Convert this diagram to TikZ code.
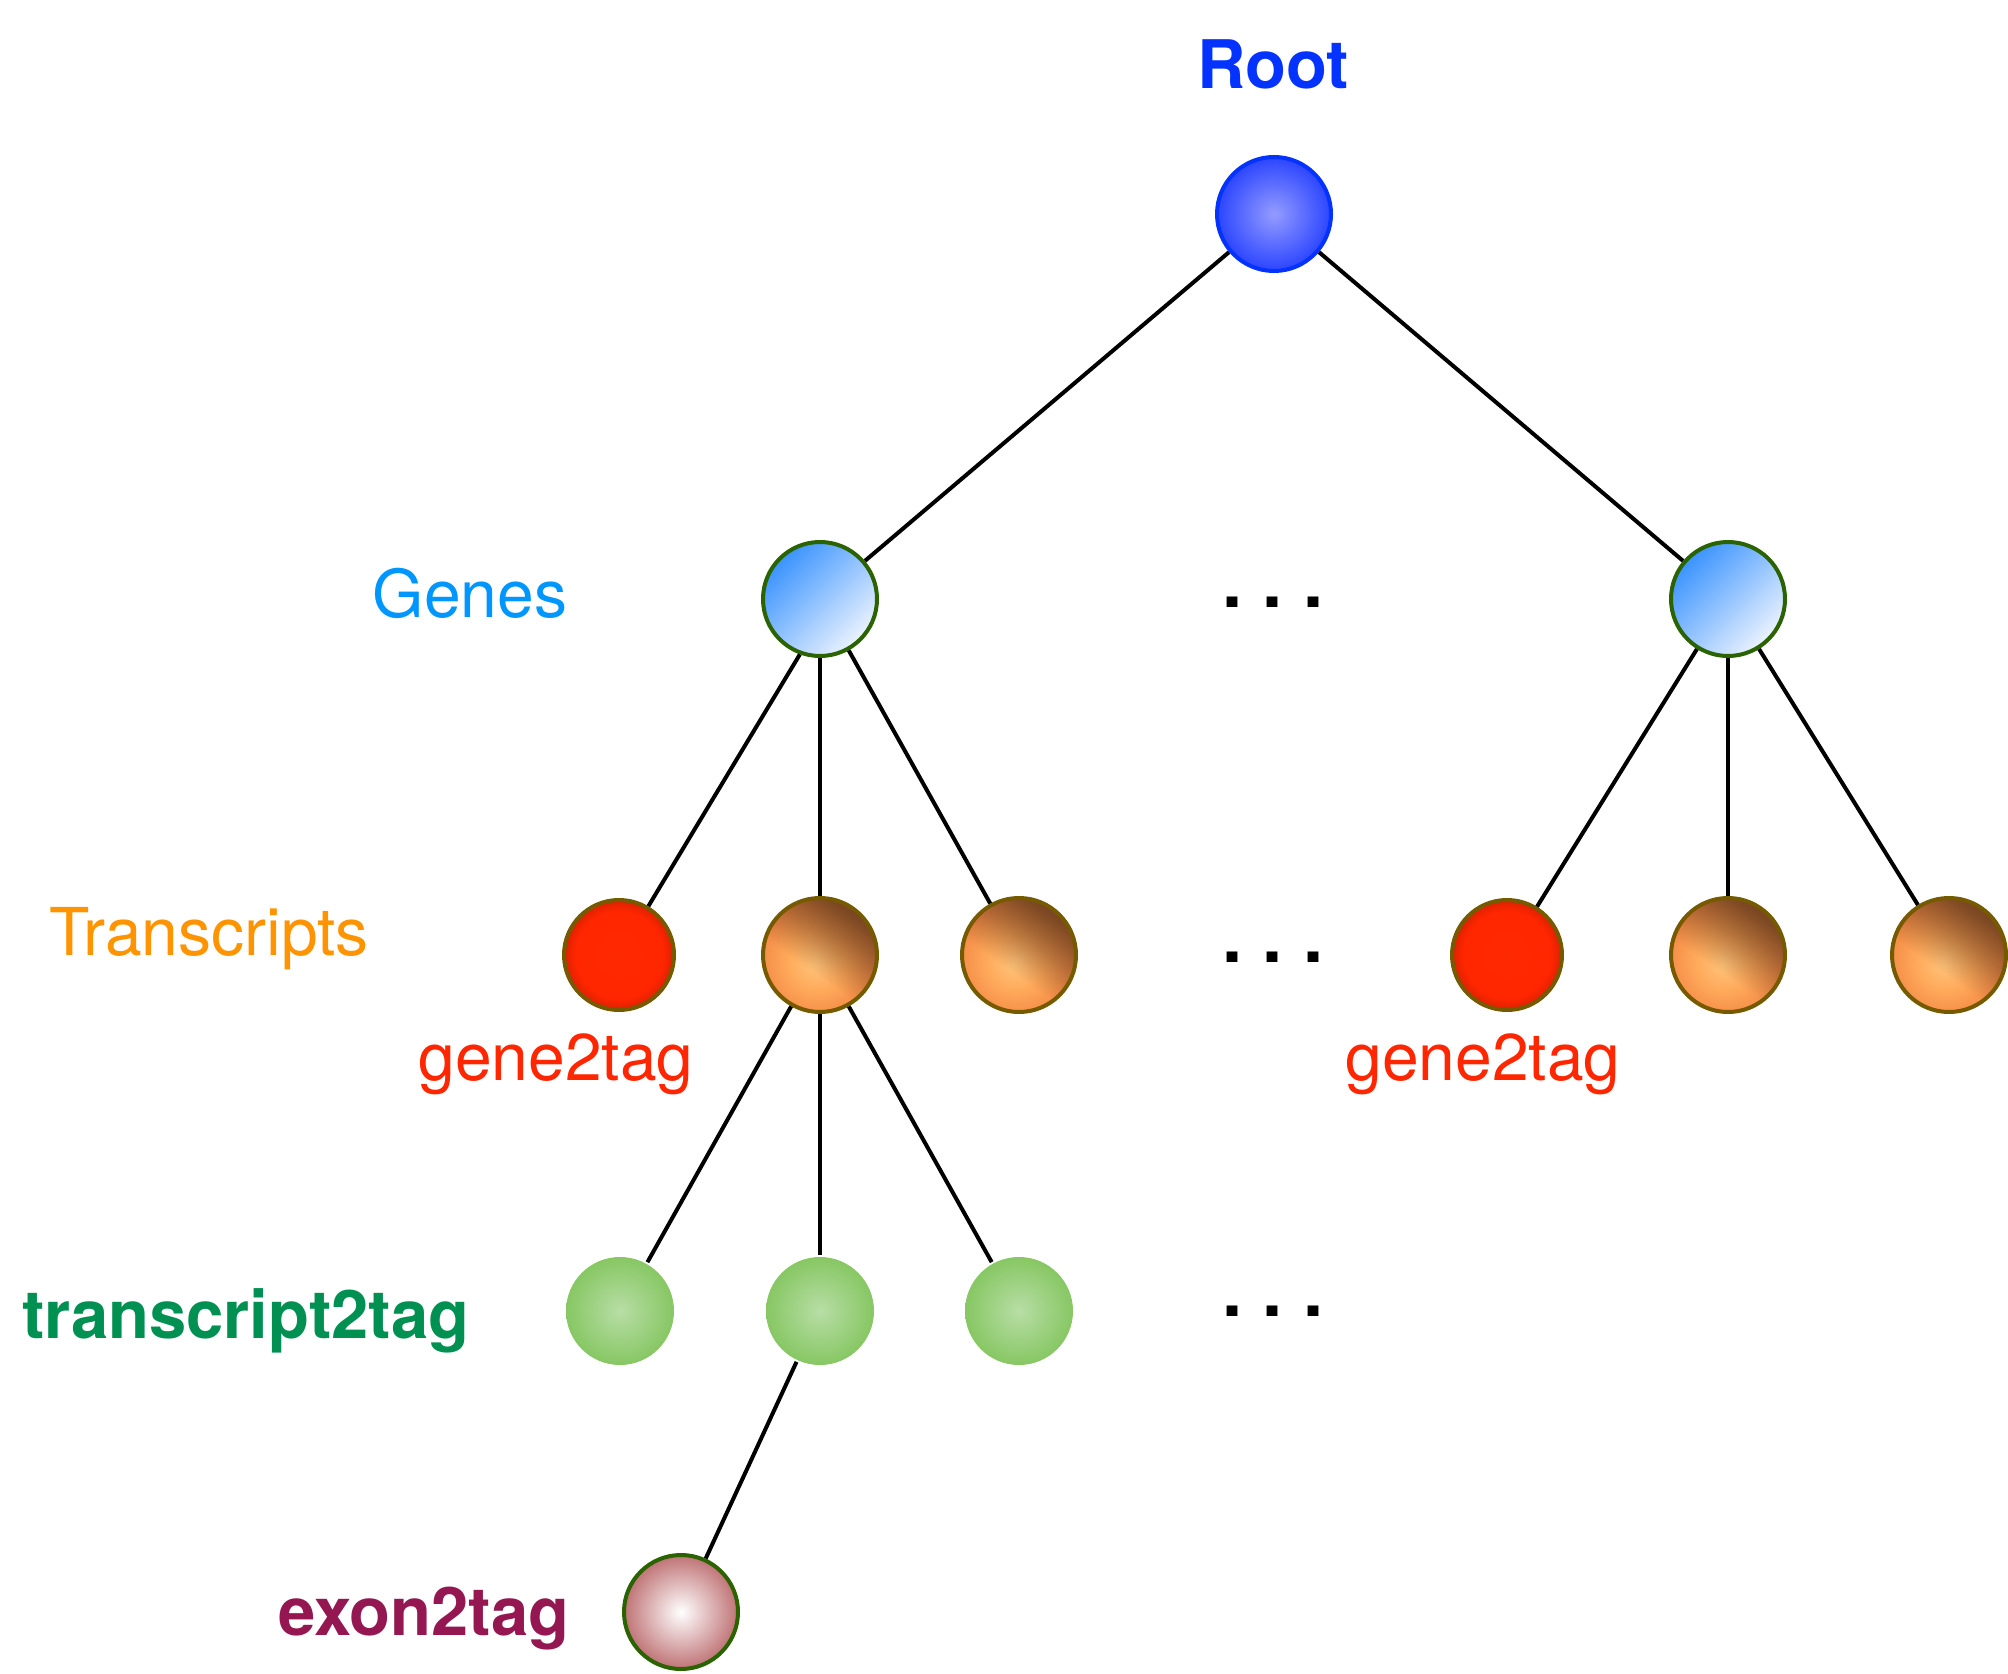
\documentclass[tikz,border=0pt]{standalone}
\usepackage{fontspec}
\setmainfont{TeX Gyre Heros}
\usetikzlibrary{fadings}
\definecolor{blueberry}{HTML}{0433FF}
\definecolor{aqua}{HTML}{0096FF}
\definecolor{tangerine}{HTML}{FF9300}
\definecolor{marasch}{HTML}{FF2600}
\definecolor{moss}{HTML}{009051}
\definecolor{maroonc}{HTML}{941751}
\definecolor{genebd}{HTML}{2A6300}
\definecolor{trbd}{HTML}{765A00}
\definecolor{geneA}{HTML}{3A93FF}
\definecolor{geneB}{HTML}{ECF3FF}
\definecolor{brownD}{HTML}{70411F}
\pgfdeclareradialshading{rootball}{\pgfpoint{0bp}{0bp}}{rgb(0bp)=(0.58,0.61,1); rgb(25bp)=(0.17,0.27,1); rgb(50bp)=(0.17,0.27,1)}
\pgfdeclareradialshading{orangeball}{\pgfpoint{-2bp}{-4bp}}{rgb(0bp)=(1,0.77,0.48); rgb(12bp)=(1,0.67,0.36); rgb(25bp)=(0.96,0.55,0.28); rgb(50bp)=(0.96,0.55,0.28)}
\pgfdeclareradialshading{redball}{\pgfpoint{0bp}{0bp}}{rgb(0bp)=(1,0.16,0); rgb(20bp)=(1,0.15,0); rgb(25bp)=(0.86,0.13,0); rgb(50bp)=(0.86,0.13,0)}
\pgfdeclareradialshading{greenball}{\pgfpoint{0bp}{0bp}}{rgb(0bp)=(0.72,0.87,0.65); rgb(25bp)=(0.53,0.78,0.39); rgb(50bp)=(0.53,0.78,0.39)}
\pgfdeclareradialshading{exonball}{\pgfpoint{0bp}{0bp}}{rgb(0bp)=(1,1,1); rgb(25bp)=(0.75,0.45,0.46); rgb(50bp)=(0.75,0.45,0.46)}
\pgfdeclareverticalshading{bfshade}{100bp}{color(0bp)=(pgftransparent!100); color(42bp)=(pgftransparent!100); color(58bp)=(pgftransparent!50); color(72bp)=(pgftransparent!10); color(84bp)=(pgftransparent!0); color(100bp)=(pgftransparent!0)}
\pgfdeclarefading{brownfade}{\pgfuseshading{bfshade}}
\tikzset{
  ball/.style={circle, inner sep=0pt, line width=2pt},
  rootnode/.style={ball, minimum size=57pt, draw=blueberry, shading=rootball},
  genenode/.style={ball, minimum size=57pt, draw=genebd, top color=geneA, bottom color=geneB, shading angle=45},
  rednode/.style={ball, minimum size=55pt, draw=trbd, shading=redball},
  orangenode/.style={ball, minimum size=57pt, draw=trbd, shading=orangeball,
    path picture={\fill[brownD, path fading=brownfade, fading angle=-35]
      (path picture bounding box.south west) rectangle (path picture bounding box.north east);}},
  greennode/.style={ball, minimum size=54pt, shading=greenball},
  exonnode/.style={ball, minimum size=57pt, draw=genebd, shading=exonball},
  edge/.style={line width=2pt, black},
  lbl/.style={inner sep=0pt, anchor=base, font=\fontsize{33}{36}\selectfont},
  blbl/.style={lbl, font=\fontsize{33.5}{36}\selectfont\bfseries},
  dotsnode/.style={inner sep=0pt, anchor=base, font=\fontsize{36}{40}\selectfont\bfseries\frenchspacing}
}
\begin{document}
\begin{tikzpicture}[x=0.5pt, y=-0.5pt]
\useasboundingbox (0,0) rectangle (2008,1674);
% labels
\node[blbl, text=blueberry] (tRoot) at (1273,89) {Root};
\node[lbl, text=aqua] (tGenes) at (470,617) {Genes};
\node[lbl, text=tangerine] (tTr) at (209,955) {Transcripts};
\node[lbl, text=marasch] (tG2a) at (556,1080) {gene2tag};
\node[lbl, text=marasch] (tG2b) at (1483,1080) {gene2tag};
\node[blbl, text=moss] (tT2) at (246,1338) {transcript2tag};
\node[blbl, text=maroonc] (tE2) at (424,1635) {exon2tag};
% dots
\node[dotsnode] (d1) at (1273,607) {. . .};
\node[dotsnode] (d2) at (1273,962) {. . .};
\node[dotsnode] (d3) at (1273,1316) {. . .};
% nodes
\node[rootnode] (root) at (1274,214) {};
\node[genenode] (g1) at (820,599) {};
\node[genenode] (g2) at (1728,599) {};
\node[rednode] (t1) at (619,955) {};
\node[orangenode] (t2) at (820,955) {};
\node[orangenode] (t3) at (1019,955) {};
\node[rednode] (t4) at (1507,955) {};
\node[orangenode] (t5) at (1728,955) {};
\node[orangenode] (t6) at (1949,955) {};
\node[greennode] (x1) at (620,1311) {};
\node[greennode] (x2) at (820,1311) {};
\node[greennode] (x3) at (1019,1311) {};
\node[exonnode] (e1) at (681,1612) {};
% edges
\draw[edge] (root) -- (g1);
\draw[edge] (root) -- (g2);
\draw[edge] (g1.-110) -- (t1);
\draw[edge] (g1) -- (t2);
\draw[edge] (g1) -- (t3);
\draw[edge] (g2) -- (t4);
\draw[edge] (g2) -- (t5);
\draw[edge] (g2) -- (t6);
\draw[edge] (t2) -- (x1);
\draw[edge] (t2) -- (x2);
\draw[edge] (t2) -- (x3);
\draw[edge] (x2) -- (e1);
\end{tikzpicture}
\end{document}
